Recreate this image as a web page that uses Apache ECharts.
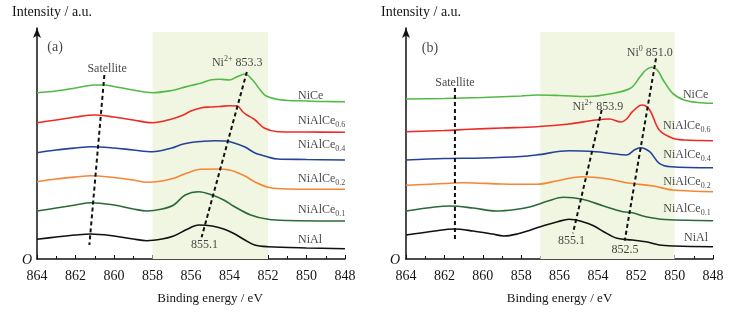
<!DOCTYPE html>
<html lang="en">
<head>
<meta charset="UTF-8">
<title>XPS Ni 2p3/2 spectra</title>
<script src="https://cdn.jsdelivr.net/npm/echarts@6/dist/echarts.min.js"></script>
<style>html,body{margin:0;padding:0;background:#fff;}</style>
</head>
<body>
<div id="main" style="width:737px;height:314px;"></div>
<script>
// [binding energy (eV), intensity (a.u., curves offset)]
// panel (a)
const aNiCe = [[864,166.3],[863,168],[862,171],[861,174],[860.5,174],[860,172.5],[859,169],[858,166.3],[857,168.5],[856.5,171],[856,173.5],[855.5,175.7],[855,179],[854.5,179.7],[854,179],[853.6,182.3],[853.2,185],[852.8,179],[852.4,169],[852.1,163],[851.4,159.3],[850,158],[849,157.5],[848,157.3]];
const aNiAlCe06 = [[864,136.3],[863,139],[862,142],[861,144],[860,142],[859,139],[858,136.3],[857,140],[856.4,144],[856,148],[855.5,151],[855,152],[854.5,152.5],[854,153.3],[853.6,153],[853.3,147],[853.1,144],[852.7,139.5],[852.2,131],[851.5,127.3],[850,127],[848,126.7]];
const aNiAlCe04 = [[864,106.3],[863,109],[862,111],[861.2,112.3],[860,111],[859,109],[858,107.3],[857,111],[856.5,114.5],[856,116.5],[855.5,117.5],[854.8,118.3],[854.2,118],[853.8,116.3],[853.2,112],[852.7,106.3],[852,102],[851.5,100],[850,99.5],[848,99]];
const aNiAlCe02 = [[864,77.3],[863,80],[862,82],[861.2,83.3],[860,81.5],[859,79],[858.3,76.7],[857.5,78],[856.9,80.7],[856.2,86],[855.5,89.7],[854.6,90],[854,89],[853.7,87.3],[853.2,83],[852.7,77.3],[852,71.7],[851,70],[848,69.7]];
const aNiAlCe01 = [[864,48],[863,51],[862,54],[861.2,56.3],[860,54],[859,50],[858.3,48],[857.5,50],[856.9,54],[856.3,64],[855.6,67.3],[854.9,64],[854.3,59],[853.8,53],[852.9,44],[852,39.7],[851,38.5],[848,38]];
const aNiAl = [[864,19.7],[863,22],[862,24],[861.2,25],[860,23],[859,20],[858.3,18.3],[857.5,20],[856.9,23],[856.2,29.7],[855.6,34],[854.9,33],[854.3,30],[853.8,25.7],[853.2,19],[852.7,14],[852,12.3],[850,11],[848,10.3]];
// panel (b)
const bNiCe = [[864,160],[862,160.5],[860,161.5],[858,163],[857.2,164],[856,163.5],[854.5,162.5],[853.4,165],[852.3,170.7],[851.8,182.3],[851.5,189],[851.2,191.7],[850.9,189],[850.6,179],[850.1,165.7],[849.5,159],[848.8,156.5],[848,155.7]];
const bNiAlCe06 = [[864,127.3],[862,128.5],[860.7,129.7],[859,131],[857.2,132.3],[855.5,135],[854.1,139],[853.4,140],[852.8,137],[852.5,140],[852.2,147.3],[851.7,154],[851.3,149],[850.8,129],[850.1,120.7],[849.5,119],[848,118.3]];
const bNiAlCe04 = [[864,99],[862,100.5],[860,101],[858,102.5],[857.2,104],[855.5,108.3],[854.1,107.3],[853.3,105.5],[852.5,104],[852.1,109],[851.8,111.3],[851.3,107.3],[850.8,95.7],[850.2,92.3],[848,91.3]];
const bNiAlCe02 = [[864,73.7],[862,75.5],[861,76.3],[859,75],[857.2,74.7],[856.1,78.3],[855.4,81],[854.8,82.3],[853.7,80.7],[852.3,75.7],[851.1,73],[850.1,69],[848,67.3]];
const bNiAlCe01 = [[864,48],[862.5,52],[861.7,53],[860.5,51],[859.3,48],[858.3,49.5],[857.5,52.3],[856.6,58],[855.8,61.7],[854.8,59.7],[853.7,53],[852.7,47.3],[852.2,46.3],[851.5,42.3],[850.5,39.5],[848,38.3]];
const bNiAl = [[864,24],[862.5,28],[861.5,30],[860.5,28],[859.5,25],[858.9,23],[858.2,25],[857.5,29],[856.8,33.5],[856.1,37.3],[855.5,39.7],[854.8,37.3],[854.2,33],[853.7,27.3],[853,20.7],[852.2,19],[851.5,17.3],[850.8,14],[850,13],[848,12.3]];

// dashed guide lines
const aGuides = [[[860.5,184],[861.28,14]], [[853.1,187],[855.45,21.7]]];
const bGuides = [[[861.45,171],[861.45,19]], [[853.8,149],[855.3,25.7]], [[850.97,200.7],[852.6,18.3]]];

// highlighted regions [from, to] eV
const aBand = [858, 852];
const bBand = [857, 850];

// text annotations [eV, intensity, text]
const aNotes = [[863.06,212,'{big|(a)}'],[860.36,190,'Satellite'],[853.6,196,'Ni{sup|2+} 853.3'],[855.3,14,'855.1']];
const bNotes = [[862.75,211,'{big|(b)}'],[861.45,176,'Satellite'],[851.29,206,'Ni{sup|0} 851.0'],[854.0,152,'Ni{sup|2+} 853.9'],[855.37,18.3,'855.1'],[852.59,9,'852.5']];
const aNames = [[850.44,163.3,'NiCe'],[850.44,138,'NiAlCe{sub|0.6}'],[850.44,114,'NiAlCe{sub|0.4}'],[850.44,80.5,'NiAlCe{sub|0.2}'],[850.44,49,'NiAlCe{sub|0.1}'],[850.44,19,'NiAl']];
const bNames = [[849.57,164,'NiCe'],[850.6,133,'NiAlCe{sub|0.6}'],[850.59,104,'NiAlCe{sub|0.4}'],[850.59,77.3,'NiAlCe{sub|0.2}'],[850.59,50,'NiAlCe{sub|0.1}'],[849.51,21,'NiAl']];

const ticks = [864, 862, 860, 858, 856, 854, 852, 850, 848];

const colors = ['#52b946', '#ee2a24', '#24429a', '#f58634', '#2b6a38', '#111111'];
const serif = 'Liberation Serif';
const ink = '#151515';
const rich = {
  sub: { fontSize: 8, fontFamily: serif, color: ink, padding: [8, 0, 0, 0] },
  sup: { fontSize: 8, fontFamily: serif, color: ink, padding: [0, 0, 8, 0] },
  big: { fontSize: 14, fontFamily: serif, color: ink }
};

let myChart = echarts.init(document.getElementById('main'));

function xAxisFor(idx, pad) {
  return {
    gridIndex: idx, type: 'value', inverse: true, min: 848, max: 864, interval: 2,
    name: 'Binding energy / eV', nameLocation: 'middle', nameGap: 33,
    nameTextStyle: { fontFamily: serif, fontSize: 13, color: ink, padding: [0, 0, 0, pad] },
    axisLine: { lineStyle: { color: '#111', width: 1.5 } },
    axisTick: { inside: true, length: 4, lineStyle: { color: '#111' } },
    minorTick: { show: true, splitNumber: 2, length: 3, lineStyle: { color: '#111' } },
    splitLine: { show: false },
    axisLabel: { fontFamily: serif, fontSize: 14, color: ink, margin: 10,
      customValues: ticks }
  };
}
function yAxisFor(idx) {
  return {
    gridIndex: idx, type: 'value', min: 0, max: 231,
    axisLine: { show: true, symbol: ['none', 'arrow'], symbolSize: [6, 10],
      lineStyle: { color: '#111', width: 1.5 } },
    axisTick: { show: false }, axisLabel: { show: false }, splitLine: { show: false }
  };
}

function curves(list, idx) {
  return list.map((d, i) => ({
    type: 'line', xAxisIndex: idx, yAxisIndex: idx, data: d,
    showSymbol: false, smooth: 0.35, silent: true, z: 3,
    lineStyle: { color: colors[i], width: 1.6 }
  }));
}
function band(range, idx) {
  return {
    type: 'line', xAxisIndex: idx, yAxisIndex: idx, data: [], silent: true,
    markArea: { silent: true, itemStyle: { color: '#f1f6e2' },
      data: [[{ coord: [range[0], 0] }, { coord: [range[1], 227] }]] }
  };
}
function guides(list, idx) {
  return list.map(g => ({
    type: 'line', xAxisIndex: idx, yAxisIndex: idx, data: g, showSymbol: false,
    silent: true, z: 4, lineStyle: { color: '#111', width: 2, type: [4, 3] }
  }));
}
function notes(list, idx, pos, size) {
  return {
    type: 'scatter', xAxisIndex: idx, yAxisIndex: idx, symbolSize: 0, silent: true, z: 5,
    data: list.map(n => ({ value: [n[0], n[1]], name: n[2] })),
    label: { show: true, position: pos, distance: 0, formatter: p => p.name,
      fontFamily: serif, fontSize: size, color: ink, rich: rich }
  };
}

const aCurves = [aNiCe, aNiAlCe06, aNiAlCe04, aNiAlCe02, aNiAlCe01, aNiAl];
const bCurves = [bNiCe, bNiAlCe06, bNiAlCe04, bNiAlCe02, bNiAlCe01, bNiAl];

const options = {
  animation: false,
  grid: [
    { left: 37, right: 392, top: 28, bottom: 55 },
    { left: 406, right: 24, top: 28, bottom: 55 }
  ],
  xAxis: [xAxisFor(0, 38), xAxisFor(1, 0)],
  yAxis: [yAxisFor(0), yAxisFor(1)],
  graphic: [
    { type: 'text', left: 12, top: 5, style: { text: 'Intensity / a.u.', font: '14px "Liberation Serif"', fill: ink } },
    { type: 'text', left: 381, top: 5, style: { text: 'Intensity / a.u.', font: '14px "Liberation Serif"', fill: ink } },
    { type: 'text', left: 22, top: 253, style: { text: 'O', font: 'italic 14px "Liberation Serif"', fill: ink } },
    { type: 'text', left: 390, top: 253, style: { text: 'O', font: 'italic 14px "Liberation Serif"', fill: ink } }
  ],
  series: [
    band(aBand, 0), band(bBand, 1),
    ...curves(aCurves, 0), ...curves(bCurves, 1),
    ...guides(aGuides, 0), ...guides(bGuides, 1),
    notes(aNotes, 0, 'inside', 12), notes(bNotes, 1, 'inside', 12),
    notes(aNames, 0, 'right', 12), notes(bNames, 1, 'right', 12)
  ]
};

myChart.setOption(options);
</script>
</body>
</html>
